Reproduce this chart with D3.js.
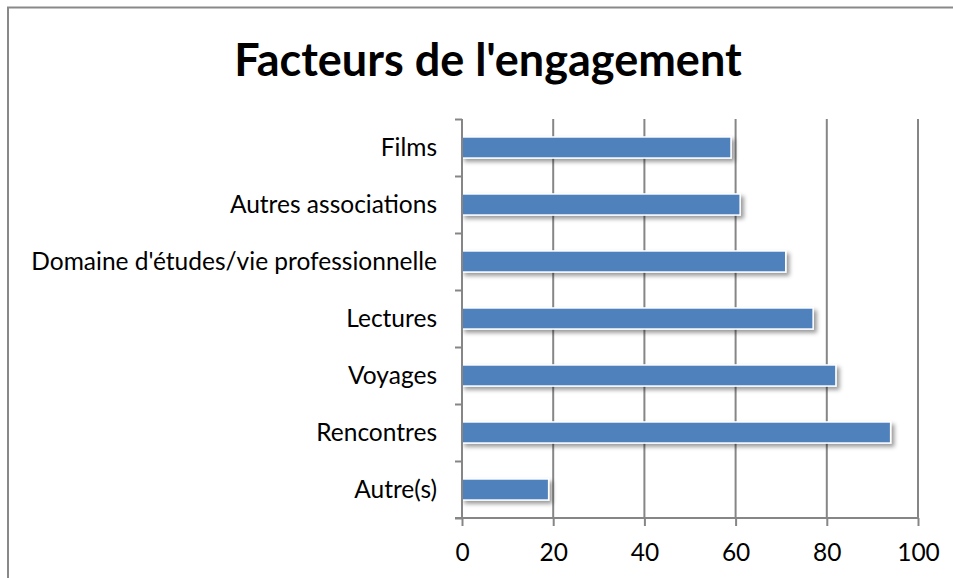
<!DOCTYPE html>
<html>
<head>
<meta charset="utf-8">
<script src="https://d3js.org/d3.v7.min.js"></script>
<style>
body { margin: 0; background: #fff; }
svg { display: block; font-family: Lato, 'Open Sans', sans-serif; }
</style>
</head>
<body>
<svg id="svg"></svg>
<script>
// chart values
const categories = ["Films", "Autres associations", "Domaine d'études/vie professionnelle",
  "Lectures", "Voyages", "Rencontres", "Autre(s)"];
const values = [59, 61, 71, 77, 82, 94, 19];
const xTicks = [0, 20, 40, 60, 80, 100];
const title = "Facteurs de l'engagement";

const width = 953, height = 578;
const margin = {top: 119, right: 35, bottom: 60, left: 462};

const svg = d3.select("#svg").attr("width", width).attr("height", height);

// drop shadow for the bars
const defs = svg.append("defs");
const f = defs.append("filter").attr("id", "shadow")
  .attr("x", "-10%").attr("y", "-30%").attr("width", "130%").attr("height", "190%");
f.append("feDropShadow").attr("dx", 3).attr("dy", 3).attr("stdDeviation", 2)
  .attr("flood-color", "#000").attr("flood-opacity", 0.4);

// outer frame (top + left edges visible)
svg.append("rect").attr("x", 8).attr("y", 7.5).attr("width", width + 10).attr("height", height + 10)
  .attr("fill", "none").attr("stroke", "#898989").attr("stroke-width", 2);

const x = d3.scaleLinear().domain([0, 100]).range([margin.left, 918]);
const y = d3.scaleBand().domain(categories).range([margin.top, 518]).paddingInner(0.63).paddingOuter(0.315);

const g = svg.append("g");

// gridlines
g.selectAll(".grid").data(xTicks.slice(1)).join("line")
  .attr("x1", d => x(d)).attr("x2", d => x(d))
  .attr("y1", margin.top).attr("y2", 518)
  .attr("stroke", "#868686").attr("stroke-width", 2);

// bars
g.selectAll(".bar").data(values).join("rect")
  .attr("x", x(0))
  .attr("y", (d, i) => y(categories[i]))
  .attr("width", d => x(d) - x(0))
  .attr("height", y.bandwidth())
  .attr("fill", "#4F81BD")
  .attr("stroke", "#fff").attr("stroke-width", 1.5)
  .attr("filter", "url(#shadow)");

// x axis
const xAxis = svg.append("g").attr("transform", "translate(0,518)")
  .call(d3.axisBottom(x).tickValues(xTicks).tickSize(8).tickPadding(20));
xAxis.select(".domain").attr("stroke", "#868686").attr("stroke-width", 2)
  .attr("d", `M${x(0) - 7},0H${x(100)}`);
xAxis.selectAll(".tick line").attr("stroke", "#868686").attr("stroke-width", 2);
xAxis.selectAll(".tick text").attr("font-size", 24.5).attr("fill", "#000")
  .attr("font-family", "Lato, sans-serif").attr("dy", "0.62em");

// y axis: ticks at band boundaries
const yb = d3.scaleLinear().domain([0, categories.length]).range([margin.top, 518]);
const yAxis = svg.append("g").attr("transform", `translate(${x(0)},0)`)
  .call(d3.axisLeft(yb).ticks(categories.length).tickSize(7).tickFormat(""));
yAxis.select(".domain").attr("stroke", "#868686").attr("stroke-width", 2)
  .attr("d", `M0,${margin.top}V518`);
yAxis.selectAll(".tick line").attr("stroke", "#868686").attr("stroke-width", 2);

// category labels
svg.append("g").selectAll("text").data(categories).join("text")
  .attr("x", 437)
  .attr("y", d => y(d) + y.bandwidth() / 2)
  .attr("dy", "0.36em")
  .attr("text-anchor", "end")
  .attr("font-size", 24.5)
  .attr("fill", "#000")
  .text(d => d);

// title
svg.append("text").attr("x", 488).attr("y", 76)
  .attr("text-anchor", "middle").attr("font-weight", "bold").attr("font-size", 45)
  .attr("fill", "#000").text(title);
</script>
</body>
</html>
